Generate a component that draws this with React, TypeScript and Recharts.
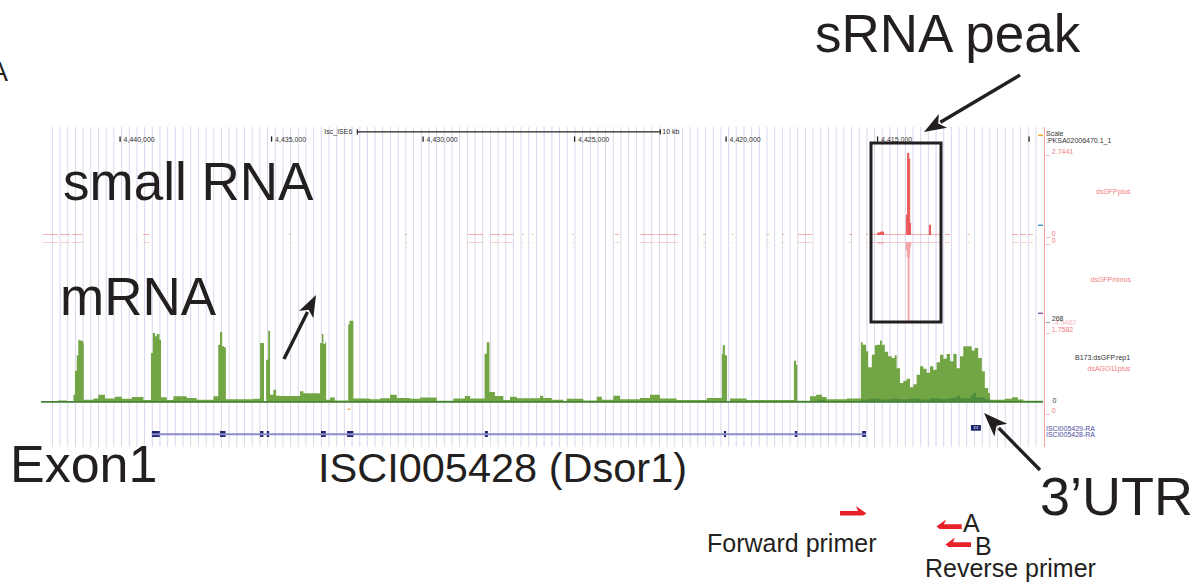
import React from 'react';
import { ComposedChart, Area, XAxis, YAxis, ReferenceLine, ReferenceArea } from 'recharts';

const W = 1202;
const H = 587;
const FONT = '"Liberation Sans", Arial, Helvetica, sans-serif';
const X_DOMAIN: [number, number] = [4409540, 4442610];
const LEFT = 41;
const RIGHT = 159;

// ---- ruler / scale ----
const rulerTicks = [4440000, 4435000, 4430000, 4425000, 4420000, 4415000, 4410000];
const rulerLabels = ['4,440,000', '4,435,000', '4,430,000', '4,425,000', '4,420,000', '4,415,000', ''];
const scaleBar: [number, number] = [4432170, 4422170];
const gridStart = 4442234;
const gridStep = 253.6;
const gridCount = 129;
const gridTicks = Array.from({ length: gridCount }, (_, i) => gridStart - i * gridStep);

// ---- small RNA (dsGFPplus / dsGFPminus) ----
const smallRnaSegments: [number, number][] = [
  [4442540, 4442050], [4441980, 4441650], [4441580, 4441250], [4439240, 4439040],
  [4434420, 4434360], [4430600, 4430530], [4428520, 4428020], [4427790, 4427460],
  [4427390, 4427030], [4426730, 4426680], [4426400, 4426350], [4425080, 4425030],
  [4423670, 4423530], [4422840, 4422350], [4422280, 4421590], [4420760, 4420680],
  [4419800, 4419750], [4418650, 4418580], [4418150, 4418090], [4417630, 4417160],
  [4415940, 4415840], [4415380, 4415320], [4415190, 4412940], [4412780, 4412610],
  [4412020, 4411950], [4410560, 4410370], [4410300, 4410100], [4410040, 4409870],
];
const plusPeak: [number, number][] = [
  [4415000, 0.07], [4414900, 0.1], [4414800, 0], [4414050, 0.67], [4414010, 2.7441],
  [4413970, 2.55], [4413940, 0.4], [4413910, 0], [4413290, 0.33], [4413250, 0],
];
const minusPeak: [number, number][] = [
  [4414990, -0.06], [4414800, 0], [4414050, -0.5], [4414020, -0.93], [4413990, -4.9482],
  [4413960, -0.93], [4413940, -0.3], [4413910, 0],
];

// ---- mRNA coverage (B173.dsGFP.rep1) ----
const mrnaPos = [
  4442610, 4442050, 4441750, 4441540, 4441490, 4441430, 4441380, 4441340, 4441230, 4441200,
  4440880, 4440720, 4440500, 4440170, 4439940, 4439610, 4439230, 4438980, 4438920, 4438850,
  4438790, 4438700, 4438650, 4438460, 4438240, 4437800, 4437470, 4436920, 4436760, 4436700,
  4436630, 4436570, 4436510, 4435600, 4435380, 4435250, 4435180, 4435110, 4435050, 4434940,
  4434850, 4434720, 4434060, 4433950, 4433400, 4433340, 4433290, 4433240, 4433200, 4433070,
  4432910, 4432470, 4432430, 4432300, 4431750, 4431420, 4431090, 4430870, 4430430, 4430100,
  4429550, 4429000, 4428620, 4428450, 4427970, 4427900, 4427810, 4427630, 4427350, 4427130,
  4426910, 4426140, 4426040, 4425750, 4425370, 4425260, 4424710, 4424270, 4424100, 4423720,
  4423500, 4422840, 4422510, 4422180, 4421630, 4420640, 4420140, 4420110, 4420040, 4419970,
  4419870, 4419320, 4417760, 4417690, 4417650, 4417230, 4417030, 4416830, 4416680, 4416020,
  4415550, 4415490, 4415380, 4415310, 4415190, 4415090, 4415030, 4414920, 4414860, 4414760,
  4414650, 4414530, 4414430, 4414370, 4414260, 4414150, 4414040, 4413930, 4413820, 4413710,
  4413600, 4413490, 4413380, 4413270, 4413160, 4413050, 4412940, 4412830, 4412720, 4412610,
  4412500, 4412390, 4412280, 4412170, 4411890, 4411790, 4411680, 4411560, 4411460, 4411350,
  4411290, 4410800, 4410560, 4410370, 4410190, 4409540,
];
const mrnaVal = [
  2, 5, 2, 23, 100, 149, 199, 196, 190, 7,
  11, 23, 11, 17, 10, 16, 6, 156, 220, 210,
  217, 199, 15, 6, 18, 13, 7, 18, 183, 223,
  178, 175, 9, 10, 188, 2, 135, 227, 23, 39,
  20, 19, 34, 28, 188, 217, 185, 190, 7, 14,
  5, 247, 259, 11, 9, 12, 23, 13, 10, 14,
  4, 11, 19, 11, 154, 191, 32, 19, 6, 17,
  12, 20, 13, 7, 2, 10, 5, 17, 7, 20,
  9, 13, 23, 11, 6, 13, 153, 181, 149, 2,
  11, 6, 132, 119, 4, 18, 23, 16, 9, 11,
  191, 183, 162, 111, 151, 181, 183, 196, 183, 160,
  146, 140, 149, 108, 61, 68, 74, 47, 57, 87,
  114, 106, 93, 114, 103, 127, 151, 138, 153, 130,
  153, 108, 146, 178, 164, 172, 140, 98, 45, 29,
  7, 10, 15, 8, 4, 4,
];
// ---- dsAGO11plus overlay ----
const agoPos = [
  4442610, 4439010, 4438610, 4435380, 4432410, 4432280, 4417230, 4416970, 4416740, 4415550,
  4415250, 4414920, 4414590, 4414260, 4413930, 4413600, 4413270, 4412940, 4412610, 4412390,
  4412280, 4411950, 4411850, 4411750, 4411460, 4411290, 4410960, 4409540,
];
const agoVal = [
  2, 3, 2, 2, 3, 2, 3, 7, 3, 8,
  10, 8, 10, 9, 11, 8, 12, 10, 13, 20,
  12, 20, 29, 14, 9, 4, 3, 3,
];

// ---- gene models ----
const exons: [number, number][] = [
  [4438950, 4438690], [4436700, 4436520], [4435380, 4435270], [4435160, 4435080],
  [4433370, 4433210], [4432510, 4432300], [4427960, 4427860], [4420070, 4420000],
  [4417730, 4417650], [4415510, 4415380],
];
const geneSpan: [number, number] = [4438950, 4415380];
const utrGene: [number, number] = [4411920, 4411590];

function buildSmallRna(segments: [number, number][], peaks: [number, number][]) {
  const rows: { x: number; v: number | null }[] = [];
  segments.forEach(([s, e], i) => {
    rows.push({ x: s, v: 0 });
    peaks.filter(([p]) => p < s && p > e).forEach(([p, v]) => rows.push({ x: p, v }));
    rows.push({ x: e, v: 0 });
    if (i < segments.length - 1) rows.push({ x: (e + segments[i + 1][0]) / 2, v: null });
  });
  return rows;
}

const plusData = buildSmallRna(smallRnaSegments, plusPeak);
const minusData = buildSmallRna(smallRnaSegments, minusPeak);
const mrnaData = mrnaPos.map((x, i) => ({ x, v: mrnaVal[i] }));
const agoData = agoPos.map((x, i) => ({ x, v: agoVal[i] }));
const gridData = gridTicks.map((x) => ({ x }));
const exonData = exons.map(([s]) => ({ x: s }));

function Layer(props: { top: number; bottom: number; yDomain: [number, number]; data: any[]; children: React.ReactNode }) {
  return (
    <div style={{ position: 'absolute', left: 0, top: 0, width: W, height: H }}>
      <ComposedChart
        width={W}
        height={H}
        data={props.data}
        margin={{ top: props.top, bottom: H - props.bottom, left: LEFT, right: RIGHT }}
      >
        <XAxis type="number" dataKey="x" domain={X_DOMAIN} reversed hide allowDataOverflow />
        <YAxis type="number" domain={props.yDomain} hide allowDataOverflow />
        {props.children}
      </ComposedChart>
    </div>
  );
}

function RefLabel(props: any) {
  const { viewBox, text, side, gap } = props;
  if (!viewBox || !text) return null;
  const vx = viewBox.x ?? 0;
  const vw = viewBox.width ?? 0;
  const vy = viewBox.y ?? 0;
  const vh = viewBox.height ?? 0;
  const x = side === 'left' ? vx - gap : vx + vw + gap;
  const y = vy + vh / 2;
  return (
    <text
      x={x}
      y={y}
      dy="0.36em"
      textAnchor={side === 'left' ? 'end' : 'start'}
      fontSize={7}
      fill="#333"
      fontFamily={FONT}
    >
      {text}
    </text>
  );
}

function Arrow(p: { x1: number; y1: number; x2: number; y2: number; head: number; hw: number; w: number }) {
  const dx = p.x2 - p.x1;
  const dy = p.y2 - p.y1;
  const L = Math.hypot(dx, dy);
  const ux = dx / L;
  const uy = dy / L;
  const bx = p.x2 - ux * p.head;
  const by = p.y2 - uy * p.head;
  const nx = -uy;
  const ny = ux;
  const nb = 0.25 * p.head;
  return (
    <g>
      <line x1={p.x1} y1={p.y1} x2={bx + ux * 3} y2={by + uy * 3} stroke="#231f20" strokeWidth={p.w} />
      <polygon
        points={`${p.x2},${p.y2} ${bx + nx * p.hw},${by + ny * p.hw} ${bx + ux * nb},${by + uy * nb} ${bx - nx * p.hw},${by - ny * p.hw}`}
        fill="#231f20"
      />
    </g>
  );
}

export default function App() {
  return (
    <div style={{ position: 'absolute', left: 0, top: 0, width: W, height: H, background: '#fff', overflow: 'hidden' }}>
      {/* guide lines */}
      <Layer top={127} bottom={447} yDomain={[0, 1]} data={gridData}>
        {gridTicks.map((t) => (
          <ReferenceLine key={t} x={t} stroke="#d9d7eb" strokeWidth={1} ifOverflow="visible" />
        ))}
      </Layer>

      {/* ruler and scale bar */}
      <Layer top={129} bottom={142} yDomain={[0, 13]} data={gridData}>
        {rulerTicks.map((t, i) => (
          <ReferenceLine
            key={t}
            segment={[{ x: t, y: 0.3 }, { x: t, y: 5.6 }]}
            stroke="#222"
            strokeWidth={1.3}
            ifOverflow="visible"
            label={<RefLabel text={rulerLabels[i]} side="right" gap={3.5} />}
          />
        ))}
        <ReferenceLine
          segment={[{ x: scaleBar[0], y: 10.2 }, { x: scaleBar[1], y: 10.2 }]}
          stroke="#222"
          strokeWidth={1.2}
          ifOverflow="visible"
        />
        <ReferenceLine
          segment={[{ x: scaleBar[0], y: 7.6 }, { x: scaleBar[0], y: 12.8 }]}
          stroke="#222"
          strokeWidth={1.2}
          ifOverflow="visible"
          label={<RefLabel text="Isc_ISE6" side="left" gap={5} />}
        />
        <ReferenceLine
          segment={[{ x: scaleBar[1], y: 7.6 }, { x: scaleBar[1], y: 12.8 }]}
          stroke="#222"
          strokeWidth={1.2}
          ifOverflow="visible"
          label={<RefLabel text="10 kb" side="right" gap={2} />}
        />
      </Layer>

      {/* dsGFPplus */}
      <Layer top={153} bottom={235} yDomain={[0, 2.7441]} data={plusData}>
        <Area
          type="stepAfter"
          dataKey="v"
          stroke="#ea5a5a"
          strokeWidth={1}
          fill="#ea5a5a"
          fillOpacity={1}
          baseValue={0}
          connectNulls={false}
          dot={false}
          activeDot={false}
          isAnimationActive={false}
        />
      </Layer>

      {/* dsGFPminus */}
      <Layer top={242} bottom={322} yDomain={[-4.9482, 0]} data={minusData}>
        <Area
          type="stepAfter"
          dataKey="v"
          stroke="#f2a0a0"
          strokeWidth={1}
          fill="#f4a8a8"
          fillOpacity={1}
          baseValue={0}
          connectNulls={false}
          dot={false}
          activeDot={false}
          isAnimationActive={false}
        />
      </Layer>

      {/* mRNA coverage */}
      <Layer top={318} bottom={402} yDomain={[0, 268]} data={mrnaData}>
        <Area
          type="stepAfter"
          dataKey="v"
          stroke="none"
          fill="#72a644"
          fillOpacity={1}
          baseValue={0}
          dot={false}
          activeDot={false}
          isAnimationActive={false}
        />
      </Layer>
      <Layer top={318} bottom={402} yDomain={[0, 268]} data={agoData}>
        <Area
          type="stepAfter"
          dataKey="v"
          stroke="none"
          fill="#4e8b3a"
          fillOpacity={1}
          baseValue={0}
          dot={false}
          activeDot={false}
          isAnimationActive={false}
        />
        <ReferenceLine y={0} stroke="#3f7d2f" strokeWidth={1.5} ifOverflow="visible" />
      </Layer>

      {/* gene models */}
      <Layer top={431} bottom={437} yDomain={[0, 1]} data={exonData}>
        <ReferenceLine
          segment={[{ x: geneSpan[0], y: 0.45 }, { x: geneSpan[1], y: 0.45 }]}
          stroke="#8d8cc8"
          strokeWidth={2}
          ifOverflow="visible"
        />
        {exons.map(([s, e]) => (
          <ReferenceArea key={s} x1={s} x2={e} y1={0} y2={1} fill="#1f246e" fillOpacity={1} stroke="none" ifOverflow="visible" />
        ))}
        <ReferenceArea
          x1={utrGene[0]}
          x2={utrGene[1]}
          y1={1.05}
          y2={2}
          fill="#1f246e"
          fillOpacity={1}
          stroke="none"
          ifOverflow="visible"
          label={{ value: '‹‹', position: 'center', fill: '#fff', fontSize: 7, fontFamily: FONT }}
        />
      </Layer>

      {/* annotation overlay */}
      <svg width={W} height={H} style={{ position: 'absolute', left: 0, top: 0 }} fontFamily={FONT}>
        <line x1={1044.5} y1={127} x2={1044.5} y2={447} stroke="#f4a3a3" strokeWidth={1} />
        <rect x={1038} y={134.5} width={5} height={1.6} fill="#f0a830" />
        <rect x={1038} y={224.6} width={5} height={1.4} fill="#3a8cc0" />
        <rect x={1038} y={312.6} width={5} height={1.4} fill="#8a5aa6" />
        <rect x={347.5} y={408.6} width={3} height={1.2} fill="#e89a40" />

        <g fontSize={7}>
          <text x={1046} y={136} fill="#333">Scale</text>
          <text x={1046} y={142.5} fill="#333">:PKSA02006470.1_1</text>
          <text x={1046} y={154} fill="#ef7e7e">_ 2.7441</text>
          <text x={1096} y={194} fill="#ef7e7e">dsGFPplus</text>
          <text x={1046} y={235.5} fill="#ef7e7e">_ 0</text>
          <text x={1046} y={242.5} fill="#ef7e7e">_ 0</text>
          <text x={1090.5} y={282} fill="#ef7e7e">dsGFPminus</text>
          <text x={1052.5} y={325} fill="#f6bcbc">-4.9482</text>
          <text x={1046} y={321} fill="#333">_ 268</text>
          <text x={1046} y={331.5} fill="#ef7e7e">_ 1.7582</text>
          <text x={1075} y={360} fill="#333">B173.dsGFP.rep1</text>
          <text x={1087.5} y={371} fill="#ef7e7e">dsAGO11plus</text>
          <text x={1052.5} y={403} fill="#333">0</text>
          <text x={1046} y={413} fill="#ef7e7e">_ 0</text>
          <text x={1046} y={430.5} fill="#4b4b9c">ISCI005429-RA</text>
          <text x={1046} y={437} fill="#4b4b9c">ISCI005428-RA</text>
        </g>

        <g fill="#231f20">
          <text x={-10} y={81} fontSize={27}>A</text>
          <text x={63} y={200} fontSize={53}>small RNA</text>
          <text x={60} y={315} fontSize={53}>mRNA</text>
          <text x={10} y={482} fontSize={52}>Exon1</text>
          <text x={318} y={482} fontSize={41.5}>ISCI005428 (Dsor1)</text>
          <text x={815} y={52} fontSize={53}>sRNA peak</text>
          <text x={1040} y={515} fontSize={54}>3’UTR</text>
          <text x={707} y={552} fontSize={25}>Forward primer</text>
          <text x={963} y={532} fontSize={25}>A</text>
          <text x={975} y={555} fontSize={25}>B</text>
          <text x={925} y={577} fontSize={25}>Reverse primer</text>
        </g>

        <rect x={871} y={143} width={70} height={179} fill="none" stroke="#231f20" strokeWidth={3} />
        <Arrow x1={1020} y1={75} x2={924} y2={132} head={22} hw={8} w={3.4} />
        <Arrow x1={284} y1={359} x2={316} y2={295} head={22} hw={8} w={3.4} />
        <Arrow x1={1040} y1={470} x2={984} y2={413} head={24} hw={9} w={3.4} />

        <g fill="#e8202a">
          <polygon points="840,511 858,511 856,506 866.5,513.5 863,515.6 840,515.6" />
          <polygon points="961.7,524.3 944,524.3 946,519.5 936.5,526.5 939.5,529 961.7,529" />
          <polygon points="971,542.3 953,542.3 955,537.5 945.5,544.5 948.5,547 971,547" />
        </g>
      </svg>
    </div>
  );
}
